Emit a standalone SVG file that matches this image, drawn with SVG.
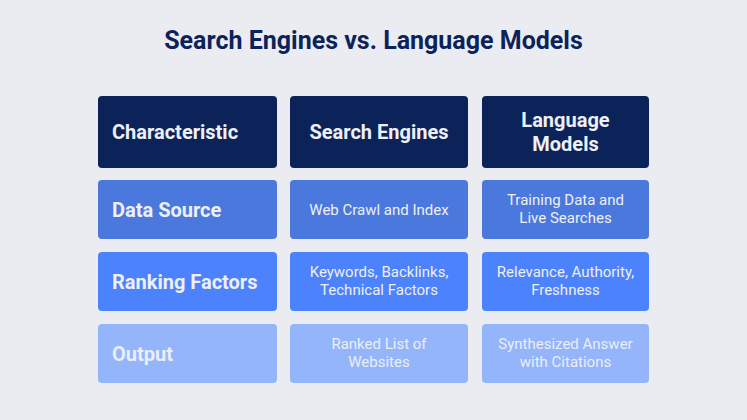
<svg xmlns="http://www.w3.org/2000/svg" width="747" height="420" viewBox="0 0 747 420">
<style>
.bg{fill:#ebecf1}
.title{font-family:Roboto,"Liberation Sans",sans-serif;font-weight:700;font-size:25px;fill:#0c2359;text-anchor:middle}
.hd{fill:#0c2359}
.r1{fill:#4a78dd}
.r2{fill:#4c82fb}
.r3{fill:#95b5fb}
.lbl{font-family:Roboto,"Liberation Sans",sans-serif;font-weight:700;font-size:20px;fill:#eef0f7}
.hc{font-family:Roboto,"Liberation Sans",sans-serif;font-weight:700;font-size:20px;fill:#eef0f7;text-anchor:middle}
.cell{font-family:Roboto,"Liberation Sans",sans-serif;font-size:15px;fill:#eef0f7;text-anchor:middle}
.faint{fill:#e9eef9}
</style>
<rect class="bg" x="0" y="0" width="747" height="420"/>
<text class="title" x="373.5" y="49">Search Engines vs. Language Models</text>
<g id="connectors"></g>
<g id="h-char"><rect class="hd" x="98" y="96" width="179" height="72" rx="4"/><text class="lbl" x="112" y="139">Characteristic</text></g>
<g id="h-se"><rect class="hd" x="290" y="96" width="178" height="72" rx="4"/><text class="hc" x="379" y="139">Search Engines</text></g>
<g id="h-lm"><rect class="hd" x="482" y="96" width="167" height="72" rx="4"/><text class="hc" x="565.5" y="127">Language</text><text class="hc" x="565.5" y="151">Models</text></g>
<g id="r1-c1"><rect class="r1" x="98" y="180" width="179" height="59" rx="4"/><text class="lbl" x="112" y="216.5">Data Source</text></g>
<g id="r1-c2"><rect class="r1" x="290" y="180" width="178" height="59" rx="4"/><text class="cell" x="379" y="214.5">Web Crawl and Index</text></g>
<g id="r1-c3"><rect class="r1" x="482" y="180" width="167" height="59" rx="4"/><text class="cell" x="565.5" y="205">Training Data and</text><text class="cell" x="565.5" y="223">Live Searches</text></g>
<g id="r2-c1"><rect class="r2" x="98" y="252" width="179" height="59" rx="4"/><text class="lbl" x="112" y="288.5">Ranking Factors</text></g>
<g id="r2-c2"><rect class="r2" x="290" y="252" width="178" height="59" rx="4"/><text class="cell" x="379" y="277">Keywords, Backlinks,</text><text class="cell" x="379" y="295">Technical Factors</text></g>
<g id="r2-c3"><rect class="r2" x="482" y="252" width="167" height="59" rx="4"/><text class="cell" x="565.5" y="277">Relevance, Authority,</text><text class="cell" x="565.5" y="295">Freshness</text></g>
<g id="r3-c1"><rect class="r3" x="98" y="324" width="179" height="59" rx="4"/><text class="lbl faint" x="112" y="360.5">Output</text></g>
<g id="r3-c2"><rect class="r3" x="290" y="324" width="178" height="59" rx="4"/><text class="cell faint" x="379" y="349">Ranked List of</text><text class="cell faint" x="379" y="367">Websites</text></g>
<g id="r3-c3"><rect class="r3" x="482" y="324" width="167" height="59" rx="4"/><text class="cell faint" x="565.5" y="349">Synthesized Answer</text><text class="cell faint" x="565.5" y="367">with Citations</text></g>
</svg>
